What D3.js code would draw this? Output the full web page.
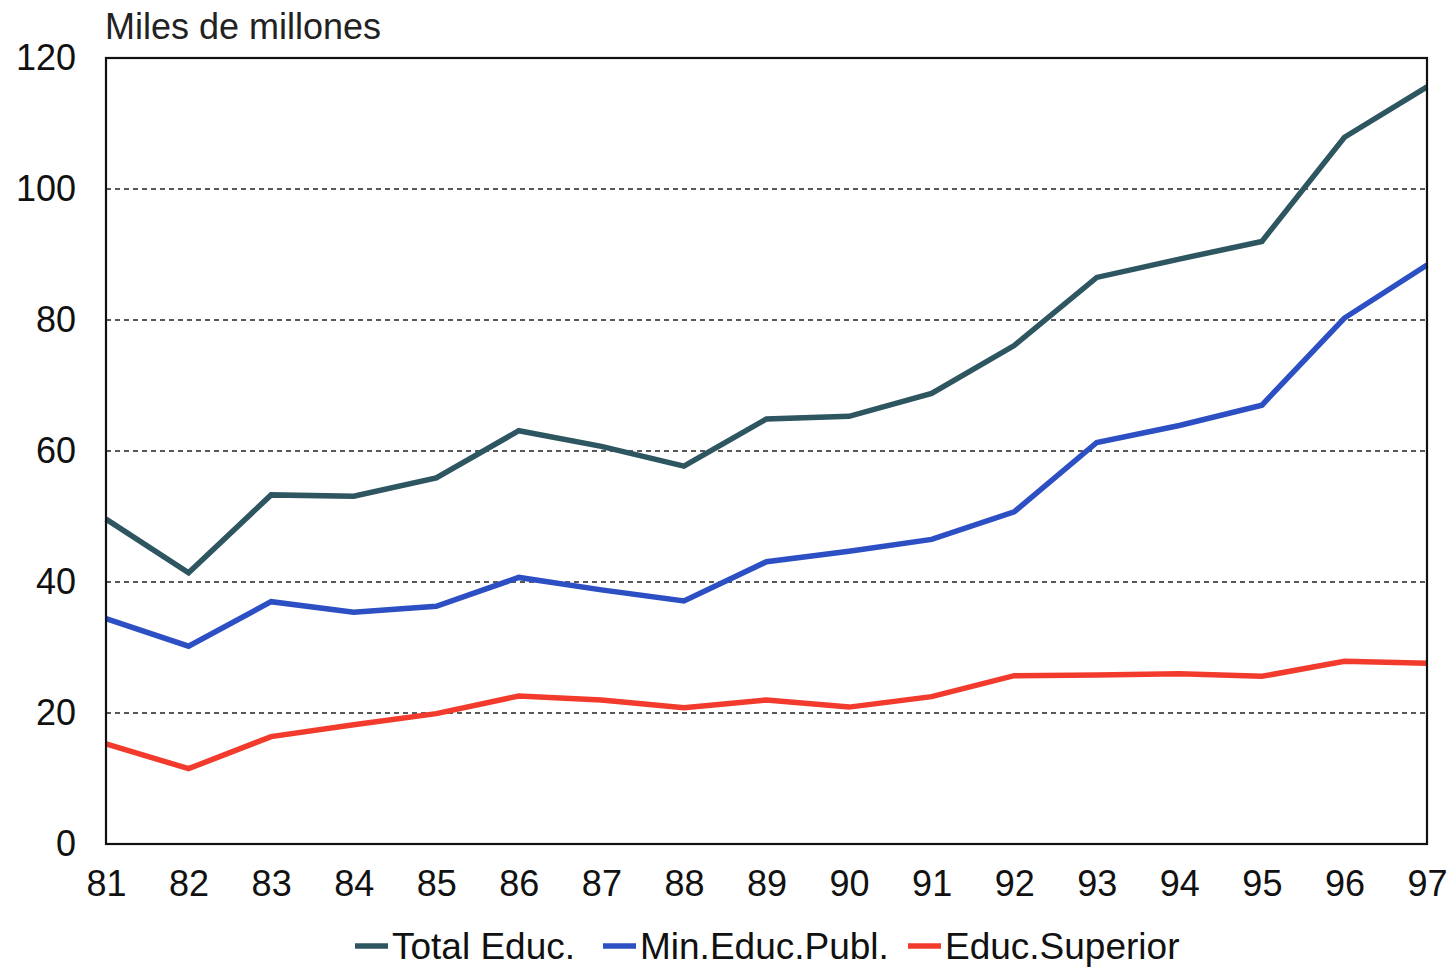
<!DOCTYPE html>
<html>
<head>
<meta charset="utf-8">
<script src="https://cdn.jsdelivr.net/npm/d3@7"></script>
<style>
  body { margin: 0; background: #fff; }
  svg { font-family: "Liberation Sans", Arial, sans-serif; }
</style>
</head>
<body>
<svg id="chart" width="1455" height="968"></svg>
<script>
// years (two-digit labels)
var years = ['81', '82', '83', '84', '85', '86', '87', '88', '89', '90', '91', '92', '93', '94', '95', '96', '97'];
var totalEduc = [49.6, 41.4, 53.3, 53.1, 55.9, 63.1, 60.7, 57.7, 64.9, 65.3, 68.8, 76.1, 86.5, 89.3, 92.0, 107.9, 115.6];
var minEducPubl = [34.4, 30.2, 37.0, 35.4, 36.3, 40.7, 38.8, 37.1, 43.1, 44.7, 46.5, 50.7, 61.3, 63.9, 67.0, 80.3, 88.4];
var educSuperior = [15.3, 11.5, 16.4, 18.2, 19.9, 22.6, 22.0, 20.8, 22.0, 20.9, 22.5, 25.7, 25.8, 26.0, 25.6, 27.9, 27.6];
var yTicks = [0, 20, 40, 60, 80, 100, 120];

var series = [
  {name: 'Total Educ.', values: totalEduc, color: '#2e5661'},
  {name: 'Min.Educ.Publ.', values: minEducPubl, color: '#2c4fc4'},
  {name: 'Educ.Superior', values: educSuperior, color: '#f23b2c'}
];

drawChart();

function drawChart() {
  var plotLeft = 106, plotRight = 1427, plotTop = 58, plotBottom = 844;

  var svg = d3.select('#chart');

  var x = d3.scalePoint()
    .domain(years)
    .range([plotLeft, plotRight]);

  var y = d3.scaleLinear()
    .domain([0, 120])
    .range([plotBottom, plotTop]);

  // dashed gridlines
  svg.append('g')
    .selectAll('line')
    .data(yTicks.filter(function(d) { return d > 0 && d < 120; }))
    .enter().append('line')
    .attr('x1', plotLeft)
    .attr('x2', plotRight)
    .attr('y1', function(d) { return y(d); })
    .attr('y2', function(d) { return y(d); })
    .attr('stroke', '#222')
    .attr('stroke-width', 1.3)
    .attr('stroke-dasharray', '5,4');

  // y axis labels
  var yAxis = d3.axisLeft(y).tickValues(yTicks).tickSize(0).tickPadding(30);
  svg.append('g')
    .attr('transform', 'translate(' + plotLeft + ',0)')
    .call(yAxis)
    .call(function(g) { g.select('.domain').remove(); })
    .selectAll('text')
    .attr('font-size', 36)
    .attr('fill', '#111')
    .attr('font-family', '"Liberation Sans", Arial, sans-serif');

  // x axis labels
  var xAxis = d3.axisBottom(x).tickSize(0).tickPadding(26);
  svg.append('g')
    .attr('transform', 'translate(0,' + plotBottom + ')')
    .call(xAxis)
    .call(function(g) { g.select('.domain').remove(); })
    .selectAll('text')
    .attr('font-size', 36)
    .attr('fill', '#111')
    .attr('font-family', '"Liberation Sans", Arial, sans-serif');

  // lines
  var line = d3.line()
    .x(function(d, i) { return x(years[i]); })
    .y(function(d) { return y(d); });

  svg.append('g')
    .selectAll('path')
    .data(series)
    .enter().append('path')
    .attr('d', function(d) { return line(d.values); })
    .attr('fill', 'none')
    .attr('stroke', function(d) { return d.color; })
    .attr('stroke-width', 5.5)
    .attr('stroke-linejoin', 'miter');

  // frame
  svg.append('rect')
    .attr('x', plotLeft)
    .attr('y', plotTop)
    .attr('width', plotRight - plotLeft)
    .attr('height', plotBottom - plotTop)
    .attr('fill', 'none')
    .attr('stroke', '#111')
    .attr('stroke-width', 2.2);

  // title
  svg.append('text')
    .attr('x', 105)
    .attr('y', 39)
    .attr('font-size', 36)
    .attr('fill', '#222')
    .text('Miles de millones');

  // legend
  var legendX = [355, 603, 908];
  var lg = svg.append('g')
    .selectAll('g')
    .data(series)
    .enter().append('g')
    .attr('transform', function(d, i) { return 'translate(' + legendX[i] + ',946)'; });

  lg.append('line')
    .attr('x1', 0).attr('x2', 33)
    .attr('y1', 0).attr('y2', 0)
    .attr('stroke', function(d) { return d.color; })
    .attr('stroke-width', 5.5);

  lg.append('text')
    .attr('x', 37)
    .attr('y', 13)
    .attr('font-size', 37)
    .attr('fill', '#111')
    .text(function(d) { return d.name; });
}
</script>
</body>
</html>
